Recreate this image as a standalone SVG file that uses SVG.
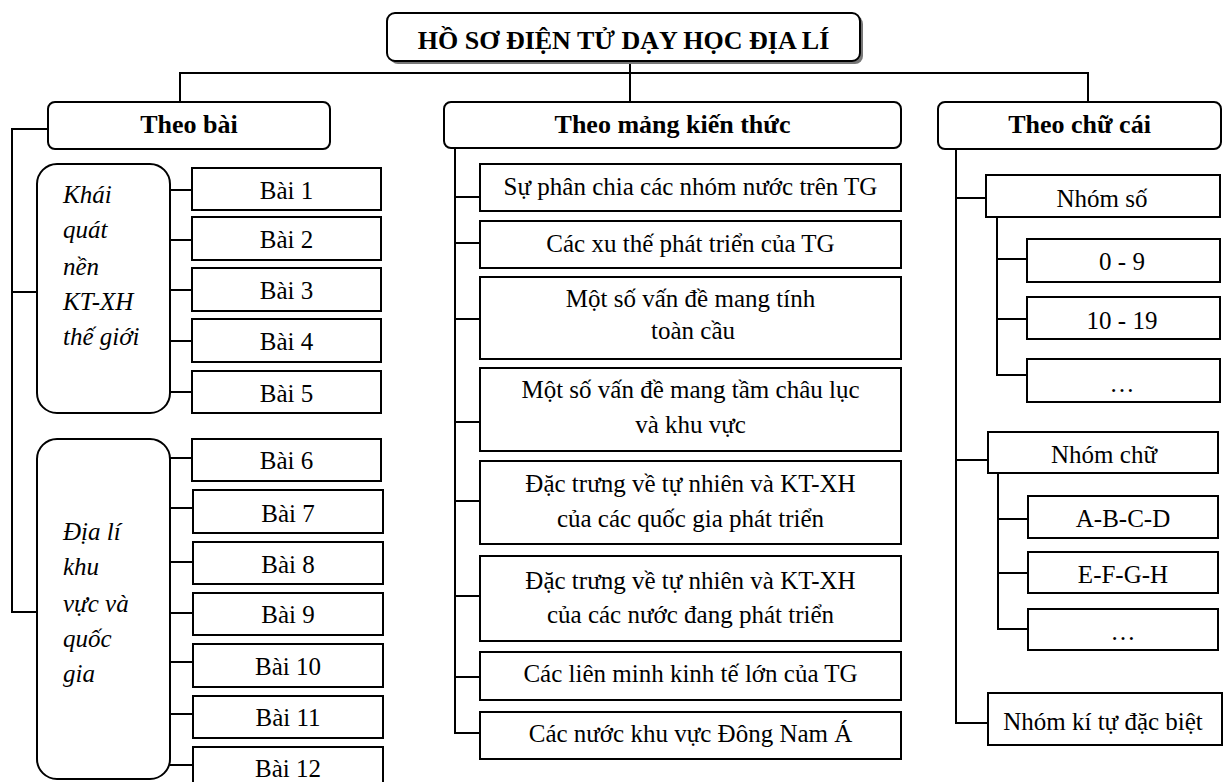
<svg xmlns="http://www.w3.org/2000/svg" width="1228" height="782" viewBox="0 0 1228 782">
<style>
.bx{fill:#fff;stroke:#000;stroke-width:2}
.ln{fill:none;stroke:#000;stroke-width:2}
.t{font-family:"Liberation Serif","Times New Roman",serif;font-size:25px;fill:#000;text-anchor:middle}
.b{font-family:"Liberation Serif","Times New Roman",serif;font-size:26px;font-weight:bold;fill:#000;text-anchor:middle}
.i{font-family:"Liberation Serif","Times New Roman",serif;font-size:25px;font-style:italic;fill:#000}
</style>
<rect width="1228" height="782" fill="#fff"/>
<g id="connectors">
<path class="ln" d="M180,102 V73 H1088 V102 M630,61 V102"/>
<path class="ln" d="M48,129 H12 V612 H37 M12,292 H37"/>
<path class="ln" d="M170,190 H192 M170,240 H192 M170,290 H192 M170,341 H192 M170,392 H192"/>
<path class="ln" d="M170,458 H192 M170,508 H193 M170,562 H193 M170,613 H193 M170,662 H193 M170,714 H193 M170,765 H193"/>
<path class="ln" d="M455,148 V733 H480 M455,197 H480 M455,243 H480 M455,319 H480 M455,422 H480 M455,501 H480 M455,596 H480 M455,677 H480"/>
<path class="ln" d="M956,149 V723 H988 M956,198 H986 M956,460 H988"/>
<path class="ln" d="M997,217 V375 H1027 M997,259 H1027 M997,319 H1027"/>
<path class="ln" d="M998,473 V629 H1028 M998,519 H1028 M998,573 H1028"/>
</g>
<g id="title">
<rect x="390" y="16" width="473" height="48" rx="8" fill="#777"/>
<rect class="bx" x="387" y="13" width="473" height="48" rx="8"/>
<text class="b" x="623.5" y="49">HỒ SƠ ĐIỆN TỬ DẠY HỌC ĐỊA LÍ</text>
</g>
<g id="theo-bai">
<rect class="bx" x="48" y="102" width="282" height="47" rx="7"/>
<text class="b" x="189" y="133">Theo bài</text>
</g>
<g id="theo-mang">
<rect class="bx" x="444" y="102" width="457" height="46" rx="7"/>
<text class="b" x="672.5" y="133">Theo mảng kiến thức</text>
</g>
<g id="theo-chu">
<rect class="bx" x="938" y="102" width="283" height="47" rx="7"/>
<text class="b" x="1079.5" y="133">Theo chữ cái</text>
</g>
<g id="group-khai-quat">
<rect class="bx" x="37" y="164" width="133" height="249" rx="20"/>
<text class="i" x="63" y="203">Khái</text>
<text class="i" x="63" y="238">quát</text>
<text class="i" x="63" y="275">nền</text>
<text class="i" x="63" y="310">KT-XH</text>
<text class="i" x="63" y="345">thế giới</text>
</g>
<g id="group-dia-li">
<rect class="bx" x="37" y="439" width="133" height="340" rx="20"/>
<text class="i" x="63" y="540">Địa lí</text>
<text class="i" x="63" y="575">khu</text>
<text class="i" x="63" y="612">vực và</text>
<text class="i" x="63" y="647">quốc</text>
<text class="i" x="63" y="682">gia</text>
</g>
<g id="bai-1"><rect class="bx" x="192" y="168" width="189" height="42"/><text class="t" x="286.5" y="199">Bài 1</text></g>
<g id="bai-2"><rect class="bx" x="192" y="217" width="189" height="43"/><text class="t" x="286.5" y="248">Bài 2</text></g>
<g id="bai-3"><rect class="bx" x="192" y="268" width="189" height="43"/><text class="t" x="286.5" y="299">Bài 3</text></g>
<g id="bai-4"><rect class="bx" x="192" y="319" width="189" height="43"/><text class="t" x="286.5" y="350">Bài 4</text></g>
<g id="bai-5"><rect class="bx" x="192" y="371" width="189" height="42"/><text class="t" x="286.5" y="402">Bài 5</text></g>
<g id="bai-6"><rect class="bx" x="192" y="439" width="189" height="42"/><text class="t" x="286.5" y="469">Bài 6</text></g>
<g id="bai-7"><rect class="bx" x="193" y="490" width="190" height="43"/><text class="t" x="288" y="522">Bài 7</text></g>
<g id="bai-8"><rect class="bx" x="193" y="542" width="190" height="42"/><text class="t" x="288" y="573">Bài 8</text></g>
<g id="bai-9"><rect class="bx" x="193" y="593" width="190" height="42"/><text class="t" x="288" y="623">Bài 9</text></g>
<g id="bai-10"><rect class="bx" x="193" y="644" width="190" height="43"/><text class="t" x="288" y="675">Bài 10</text></g>
<g id="bai-11"><rect class="bx" x="193" y="696" width="190" height="42"/><text class="t" x="288" y="726">Bài 11</text></g>
<g id="bai-12"><rect class="bx" x="193" y="747" width="190" height="43"/><text class="t" x="288" y="777">Bài 12</text></g>
<g id="m1"><rect class="bx" x="480" y="164" width="421" height="47"/><text class="t" x="690.5" y="195">Sự phân chia các nhóm nước trên TG</text></g>
<g id="m2"><rect class="bx" x="480" y="221" width="421" height="47"/><text class="t" x="690.5" y="252">Các xu thế phát triển của TG</text></g>
<g id="m3"><rect class="bx" x="480" y="277" width="421" height="82"/><text class="t" x="690.5" y="307">Một số vấn đề mang tính</text><text class="t" x="693" y="339">toàn cầu</text></g>
<g id="m4"><rect class="bx" x="480" y="368" width="421" height="83"/><text class="t" x="690.5" y="398">Một số vấn đề mang tầm châu lục</text><text class="t" x="690.5" y="433">và khu vực</text></g>
<g id="m5"><rect class="bx" x="480" y="461" width="421" height="83"/><text class="t" x="690.5" y="492">Đặc trưng về tự nhiên và KT-XH</text><text class="t" x="690.5" y="527">của các quốc gia phát triển</text></g>
<g id="m6"><rect class="bx" x="480" y="556" width="421" height="85"/><text class="t" x="690.5" y="589">Đặc trưng về tự nhiên và KT-XH</text><text class="t" x="690.5" y="623">của các nước đang phát triển</text></g>
<g id="m7"><rect class="bx" x="480" y="652" width="421" height="48"/><text class="t" x="690.5" y="682">Các liên minh kinh tế lớn của TG</text></g>
<g id="m8"><rect class="bx" x="480" y="712" width="421" height="47"/><text class="t" x="690.5" y="742">Các nước khu vực Đông Nam Á</text></g>
<g id="nhom-so"><rect class="bx" x="986" y="175" width="234" height="42"/><text class="t" x="1102" y="207">Nhóm số</text></g>
<g id="s-0-9"><rect class="bx" x="1027" y="239" width="193" height="43"/><text class="t" x="1122" y="270">0 - 9</text></g>
<g id="s-10-19"><rect class="bx" x="1027" y="297" width="193" height="42"/><text class="t" x="1122" y="329">10 - 19</text></g>
<g id="s-more"><rect class="bx" x="1027" y="359" width="193" height="43"/><text class="t" x="1122" y="392">…</text></g>
<g id="nhom-chu"><rect class="bx" x="988" y="432" width="230" height="41"/><text class="t" x="1104" y="463">Nhóm chữ</text></g>
<g id="c-abcd"><rect class="bx" x="1028" y="496" width="190" height="42"/><text class="t" x="1123" y="527">A-B-C-D</text></g>
<g id="c-efgh"><rect class="bx" x="1028" y="552" width="190" height="41"/><text class="t" x="1123" y="583">E-F-G-H</text></g>
<g id="c-more"><rect class="bx" x="1028" y="609" width="190" height="41"/><text class="t" x="1123" y="640">…</text></g>
<g id="nhom-ki-tu"><rect class="bx" x="988" y="693" width="234" height="52"/><text class="t" x="1103" y="730">Nhóm kí tự đặc biệt</text></g>
</svg>
